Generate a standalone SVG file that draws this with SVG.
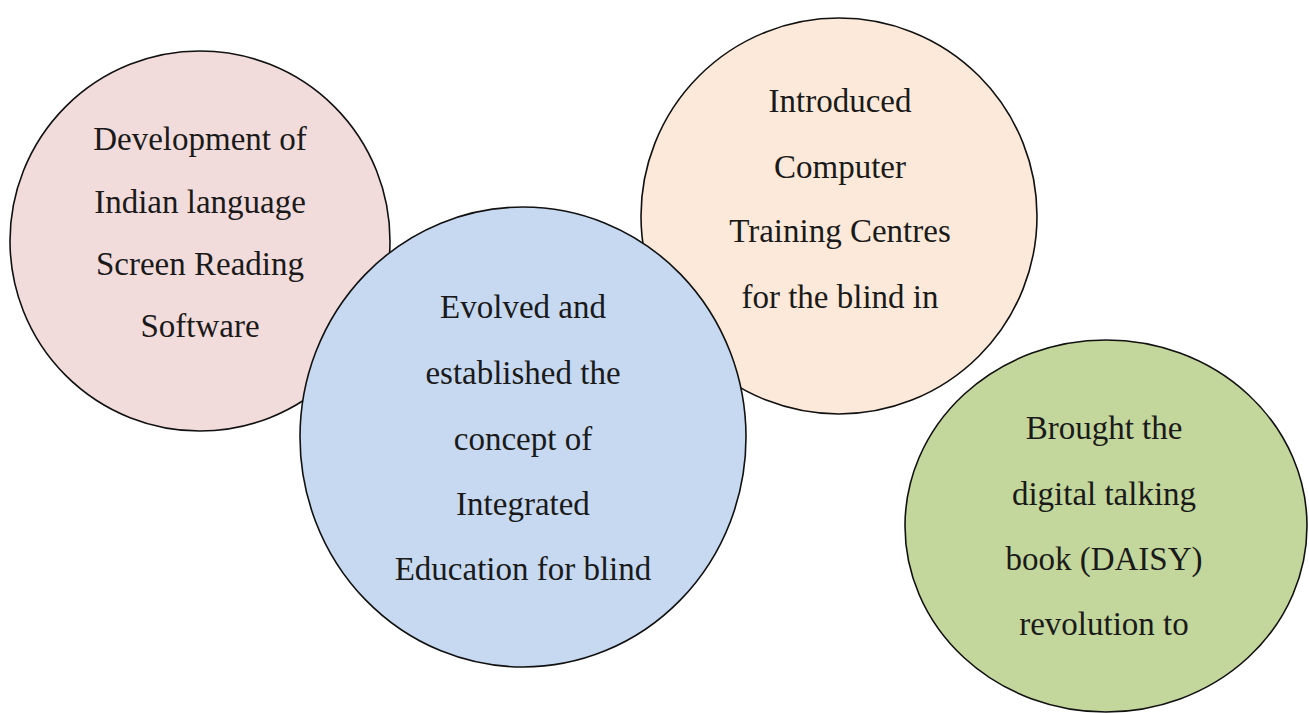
<svg xmlns="http://www.w3.org/2000/svg" width="1309" height="713" viewBox="0 0 1309 713">
<style>
.c{stroke:#111;stroke-width:1.6}
.t{font-family:"Liberation Serif","Times New Roman",serif;font-size:33px;fill:#1a1a1a;text-anchor:middle}
</style>
<rect width="1309" height="713" fill="#ffffff"/>
<g id="node-pink">
<circle class="c" cx="200" cy="241" r="190" fill="#f2dcdb"/>
<text class="t" x="200" y="150">Development of</text>
<text class="t" x="200" y="213">Indian language</text>
<text class="t" x="200" y="275">Screen Reading</text>
<text class="t" x="200" y="337">Software</text>
</g>
<g id="node-peach">
<circle class="c" cx="839" cy="216" r="198" fill="#fde9d9"/>
<text class="t" x="840" y="112">Introduced</text>
<text class="t" x="840" y="178">Computer</text>
<text class="t" x="840" y="242">Training Centres</text>
<text class="t" x="840" y="308">for the blind in</text>
</g>
<g id="node-blue">
<ellipse class="c" cx="523" cy="437" rx="223" ry="230" fill="#c6d9f1"/>
<text class="t" x="523" y="318">Evolved and</text>
<text class="t" x="523" y="384">established the</text>
<text class="t" x="523" y="450">concept of</text>
<text class="t" x="523" y="515">Integrated</text>
<text class="t" x="523" y="580">Education for blind</text>
</g>
<g id="node-green">
<ellipse class="c" cx="1106" cy="526" rx="201" ry="186" fill="#c3d69b"/>
<text class="t" x="1104" y="439">Brought the</text>
<text class="t" x="1104" y="505">digital talking</text>
<text class="t" x="1104" y="570">book (DAISY)</text>
<text class="t" x="1104" y="635">revolution to</text>
</g>
<g id="connectors"/>
</svg>
